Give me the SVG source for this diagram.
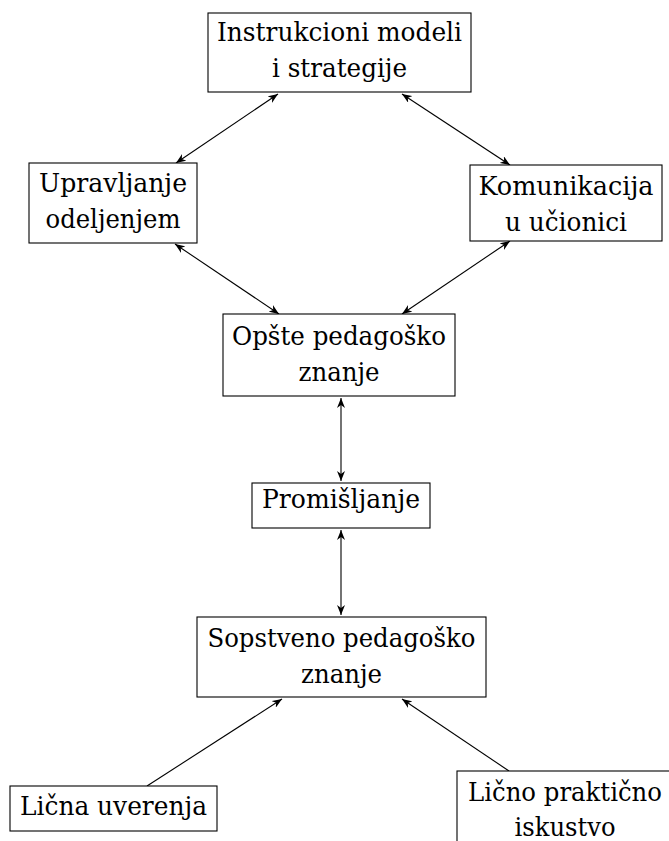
<svg xmlns="http://www.w3.org/2000/svg" width="669" height="841" viewBox="0 0 669 841">
<defs>
<marker id="ah" viewBox="0 0 10 8" refX="10" refY="4" markerWidth="10" markerHeight="8" markerUnits="userSpaceOnUse" orient="auto-start-reverse">
<path d="M10,4 L0,0 L3,4 L0,8 z" fill="#000"/>
</marker>
</defs>
<style>
rect{fill:#fff;stroke:#000;stroke-width:1.1}
text{font-size:26px;fill:#000;text-anchor:middle}
.c line{stroke:#000;stroke-width:1.1;fill:none}
.d{marker-start:url(#ah);marker-end:url(#ah)}
.s{marker-end:url(#ah)}
</style>
<rect x="0" y="0" width="669" height="841" style="fill:#fff;stroke:none"/>
<g class="c" id="connectors">
<line class="d" x1="278" y1="94" x2="176" y2="163"/>
<line class="d" x1="402" y1="94" x2="510" y2="165"/>
<line class="d" x1="175" y1="244" x2="279" y2="314"/>
<line class="d" x1="510" y1="241" x2="402" y2="314"/>
<line class="d" x1="341" y1="398" x2="341" y2="481"/>
<line class="d" x1="341" y1="530" x2="341" y2="615"/>
<line class="s" x1="147" y1="786" x2="282" y2="699"/>
<line class="s" x1="509" y1="771" x2="402" y2="699"/>
</g>
<g font-family="'DejaVu Serif', 'Liberation Serif', serif">
<g id="instrukcioni">
<rect x="208" y="13" width="263" height="79"/>
<text x="339.5" y="41" textLength="245" lengthAdjust="spacingAndGlyphs">Instrukcioni modeli</text>
<text x="339.5" y="77" textLength="135" lengthAdjust="spacingAndGlyphs">i strategije</text>
</g>
<g id="upravljanje">
<rect x="29" y="163" width="168" height="80"/>
<text x="113" y="192" textLength="148" lengthAdjust="spacingAndGlyphs">Upravljanje</text>
<text x="113" y="228" textLength="135" lengthAdjust="spacingAndGlyphs">odeljenjem</text>
</g>
<g id="komunikacija">
<rect x="470" y="165" width="192" height="76"/>
<text x="566" y="195" textLength="175" lengthAdjust="spacingAndGlyphs">Komunikacija</text>
<text x="566" y="231" textLength="122" lengthAdjust="spacingAndGlyphs">u učionici</text>
</g>
<g id="opste">
<rect x="223" y="314" width="232" height="82"/>
<text x="339" y="345" textLength="214" lengthAdjust="spacingAndGlyphs">Opšte pedagoško</text>
<text x="339" y="381" textLength="81" lengthAdjust="spacingAndGlyphs">znanje</text>
</g>
<g id="promisljanje">
<rect x="252" y="483" width="178" height="45"/>
<text x="341" y="508" textLength="158" lengthAdjust="spacingAndGlyphs">Promišljanje</text>
</g>
<g id="sopstveno">
<rect x="197" y="617" width="289" height="80"/>
<text x="341.5" y="647" textLength="268" lengthAdjust="spacingAndGlyphs">Sopstveno pedagoško</text>
<text x="341.5" y="683" textLength="81" lengthAdjust="spacingAndGlyphs">znanje</text>
</g>
<g id="licna-uverenja">
<rect x="10" y="786" width="207" height="45"/>
<text x="113.5" y="815" textLength="187" lengthAdjust="spacingAndGlyphs">Lična uverenja</text>
</g>
<g id="licno-iskustvo">
<rect x="457" y="771" width="220" height="80"/>
<text x="565" y="801" textLength="194" lengthAdjust="spacingAndGlyphs">Lično praktično</text>
<text x="565" y="836" textLength="101" lengthAdjust="spacingAndGlyphs">iskustvo</text>
</g>
</g>
</svg>
